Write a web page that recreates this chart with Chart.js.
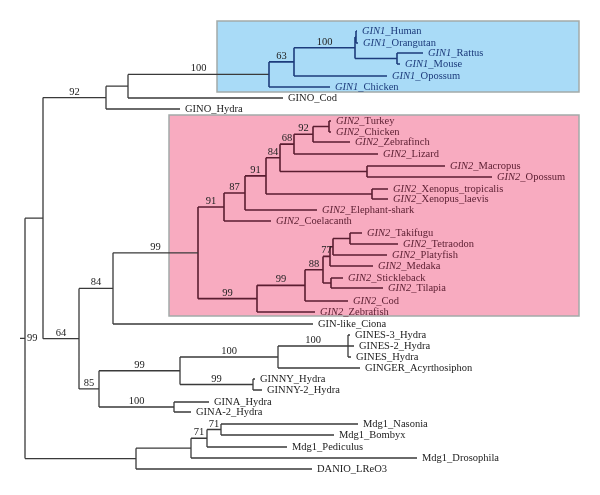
<!DOCTYPE html>
<html>
<head>
<meta charset="utf-8">
<script src="https://cdn.jsdelivr.net/npm/chart.js@4.4.1/dist/chart.umd.min.js"></script>
<style>
  html, body { margin: 0; padding: 0; background: #fff; }
  #tree { display: block; }
</style>
</head>
<body>
<canvas id="tree" width="600" height="495"></canvas>
<script>
// leaves: name, tip depth, row position
const leafNames = [
  'GIN1_Human', 'GIN1_Orangutan', 'GIN1_Rattus', 'GIN1_Mouse', 'GIN1_Opossum', 'GIN1_Chicken',
  'GINO_Cod', 'GINO_Hydra',
  'GIN2_Turkey', 'GIN2_Chicken', 'GIN2_Zebrafinch', 'GIN2_Lizard', 'GIN2_Macropus', 'GIN2_Opossum',
  'GIN2_Xenopus_tropicalis', 'GIN2_Xenopus_laevis', 'GIN2_Elephant-shark', 'GIN2_Coelacanth',
  'GIN2_Takifugu', 'GIN2_Tetraodon', 'GIN2_Platyfish', 'GIN2_Medaka', 'GIN2_Stickleback',
  'GIN2_Tilapia', 'GIN2_Cod', 'GIN2_Zebrafish',
  'GIN-like_Ciona', 'GINES-3_Hydra', 'GINES-2_Hydra', 'GINES_Hydra', 'GINGER_Acyrthosiphon',
  'GINNY_Hydra', 'GINNY-2_Hydra', 'GINA_Hydra', 'GINA-2_Hydra',
  'Mdg1_Nasonia', 'Mdg1_Bombyx', 'Mdg1_Pediculus', 'Mdg1_Drosophila', 'DANIO_LReO3'
];
const leafTipX = [
  357, 358, 423, 400, 387, 330,
  283, 180,
  331, 331, 350, 378, 445, 492,
  388, 388, 317, 271,
  362, 398, 387, 373, 343,
  383, 348, 315,
  313, 350, 354, 351, 360,
  255, 262, 209, 191,
  358, 334, 287, 417, 312
];
const leafRowY = [
  31, 43, 53, 64, 76, 87,
  98, 109,
  121, 132, 142, 154, 166, 177,
  189, 199, 210, 221,
  233, 244, 255, 266, 278,
  288, 301, 312,
  324, 335, 346, 357, 368,
  379, 390, 402, 412,
  424, 435, 447, 458, 469
];

// internal nodes: id, depth, children, bootstrap support
const nodeIds = [
  'nHO', 'nRM', 'n100a', 'n63', 'nBlue', 'nCod', 'n92',
  'nTC', 'nZf', 'nLz', 'nMO', 'n84', 'nXe', 'n91b', 'n87', 'n91a',
  'nTT', 'nPl', 'n77', 'nST', 'n88', 'nCd', 'nZb', 'nPink',
  'n84o', 'nGINES', 'nGG', 'nNY', 'n99g', 'nNA', 'n85', 'n64', 'nTop',
  'nMd3', 'nMd2', 'nMd1', 'nMdg', 'root'
];
const nodeX = [
  356, 397, 355, 294, 269, 128, 106,
  329, 313, 294, 367, 280, 372, 266, 245, 224,
  350, 333, 330, 331, 323, 305, 257, 198,
  113, 348, 278, 253, 180, 174, 99, 79, 43,
  221, 207, 191, 136, 25
];
const nodeKids = [
  ['GIN1_Human', 'GIN1_Orangutan'], ['GIN1_Rattus', 'GIN1_Mouse'], ['nHO', 'nRM'],
  ['n100a', 'GIN1_Opossum'], ['n63', 'GIN1_Chicken'], ['nBlue', 'GINO_Cod'], ['nCod', 'GINO_Hydra'],
  ['GIN2_Turkey', 'GIN2_Chicken'], ['nTC', 'GIN2_Zebrafinch'], ['nZf', 'GIN2_Lizard'],
  ['GIN2_Macropus', 'GIN2_Opossum'], ['nLz', 'nMO'],
  ['GIN2_Xenopus_tropicalis', 'GIN2_Xenopus_laevis'], ['n84', 'nXe'],
  ['n91b', 'GIN2_Elephant-shark'], ['n87', 'GIN2_Coelacanth'],
  ['GIN2_Takifugu', 'GIN2_Tetraodon'], ['nTT', 'GIN2_Platyfish'], ['nPl', 'GIN2_Medaka'],
  ['GIN2_Stickleback', 'GIN2_Tilapia'], ['n77', 'nST'], ['n88', 'GIN2_Cod'],
  ['nCd', 'GIN2_Zebrafish'], ['n91a', 'nZb'],
  ['nPink', 'GIN-like_Ciona'], ['GINES-3_Hydra', 'GINES-2_Hydra', 'GINES_Hydra'],
  ['nGINES', 'GINGER_Acyrthosiphon'], ['GINNY_Hydra', 'GINNY-2_Hydra'], ['nGG', 'nNY'],
  ['GINA_Hydra', 'GINA-2_Hydra'], ['n99g', 'nNA'], ['n84o', 'n85'], ['n92', 'n64'],
  ['Mdg1_Nasonia', 'Mdg1_Bombyx'], ['nMd3', 'Mdg1_Pediculus'], ['nMd2', 'Mdg1_Drosophila'],
  ['nMd1', 'DANIO_LReO3'], ['nTop', 'nMdg']
];
const nodeSupport = [
  '', '', '100', '63', '100', '', '92',
  '', '92', '68', '', '84', '', '91', '87', '91',
  '', '', '77', '', '88', '99', '99', '99',
  '84', '100', '100', '99', '99', '100', '85', '64', '',
  '71', '71', '', '', '99'
];

// shaded clades
const cladeRoots = ['nBlue', 'nPink'];
const cladeFill = ['#a9dbf7', '#f8abc0'];
const cladeInk = ['#1d3c7c', '#5a1d30'];
const plainInk = '#3a3a3a';
const cladeBox = [[217, 21, 579, 92], [169, 115, 579, 316]];

// ---- build positions ----
const pos = {};
leafNames.forEach((n, i) => { pos[n] = { x: leafTipX[i], y: leafRowY[i], leaf: true }; });
function nodeY(id) {
  if (pos[id]) return pos[id].y;
  const i = nodeIds.indexOf(id);
  const ys = nodeKids[i].map(nodeY);
  const y = (Math.min(...ys) + Math.max(...ys)) / 2;
  pos[id] = { x: nodeX[i], y: y, leaf: false };
  return y;
}
nodeY('root');

const ink = {};
function paint(id, c) {
  ink[id] = c;
  const i = nodeIds.indexOf(id);
  if (i >= 0) nodeKids[i].forEach(k => paint(k, cladeRoots.includes(k) ? cladeInk[cladeRoots.indexOf(k)] : c));
}
paint('root', plainInk);

// segments grouped by colour, separated by gaps
const groups = {};
function seg(c, x1, y1, x2, y2) {
  if (!groups[c]) groups[c] = [];
  groups[c].push({ x: x1, y: y1 }, { x: x2, y: y2 }, { x: x2, y: null });
}
nodeIds.forEach((id, i) => {
  const p = pos[id];
  const ys = nodeKids[i].map(k => pos[k].y);
  seg(ink[id], p.x, Math.min(...ys), p.x, Math.max(...ys));
  nodeKids[i].forEach(k => seg(ink[id], p.x, pos[k].y, pos[k].x, pos[k].y));
});
seg(plainInk, 20, pos.root.y, pos.root.x, pos.root.y);

const datasets = Object.keys(groups).map(c => ({
  data: groups[c],
  borderColor: c,
  borderWidth: c === plainInk ? 1.3 : 1.6,
  showLine: true,
  spanGaps: false,
  pointRadius: 0,
  fill: false
}));

const boxes = {
  id: 'boxes',
  beforeDatasetsDraw(chart) {
    const { ctx, scales: { x, y } } = chart;
    ctx.save();
    cladeBox.forEach((b, i) => {
      const x1 = x.getPixelForValue(b[0]), y1 = y.getPixelForValue(b[1]);
      const x2 = x.getPixelForValue(b[2]), y2 = y.getPixelForValue(b[3]);
      ctx.fillStyle = cladeFill[i];
      ctx.fillRect(x1, y1, x2 - x1, y2 - y1);
      ctx.strokeStyle = '#a3aaa9';
      ctx.lineWidth = 1.5;
      ctx.strokeRect(x1, y1, x2 - x1, y2 - y1);
    });
    ctx.restore();
  }
};

const labels = {
  id: 'labels',
  afterDatasetsDraw(chart) {
    const { ctx, scales: { x, y } } = chart;
    ctx.save();
    ctx.textBaseline = 'middle';
    leafNames.forEach((n, i) => {
      let px = x.getPixelForValue(leafTipX[i]) + 5;
      const py = y.getPixelForValue(leafRowY[i]);
      ctx.fillStyle = ink[n] === plainInk ? '#222' : ink[n];
      let head = '', tail = n;
      if (/^GIN[12]_/.test(n)) { head = n.slice(0, 4); tail = n.slice(4); }
      if (head) {
        ctx.font = 'italic 10.5px "Liberation Serif"';
        ctx.fillText(head, px, py);
        px += ctx.measureText(head).width;
      }
      ctx.font = '10.5px "Liberation Serif"';
      ctx.fillText(tail, px, py);
    });
    ctx.font = '10.5px "Liberation Serif"';
    ctx.fillStyle = '#222';
    nodeIds.forEach((id, i) => {
      const s = nodeSupport[i];
      if (!s) return;
      const p = pos[id];
      if (id === 'root') {
        ctx.textAlign = 'left';
        ctx.textBaseline = 'middle';
        ctx.fillText(s, x.getPixelForValue(p.x) + 2, y.getPixelForValue(p.y));
        return;
      }
      const parent = nodeIds[nodeKids.findIndex(k => k.includes(id))];
      const mid = (pos[parent].x + p.x) / 2;
      ctx.textAlign = 'center';
      ctx.textBaseline = 'bottom';
      ctx.fillText(s, x.getPixelForValue(mid), y.getPixelForValue(p.y) - 0.5);
    });
    ctx.restore();
  }
};

new Chart(document.getElementById('tree'), {
  type: 'scatter',
  data: { datasets },
  options: {
    responsive: false,
    animation: false,
    layout: { padding: 0 },
    plugins: { legend: { display: false }, tooltip: { enabled: false } },
    scales: {
      x: { type: 'linear', min: 0, max: 600, display: false },
      y: { type: 'linear', min: 0, max: 495, reverse: true, display: false }
    }
  },
  plugins: [boxes, labels]
});
</script>
</body>
</html>
